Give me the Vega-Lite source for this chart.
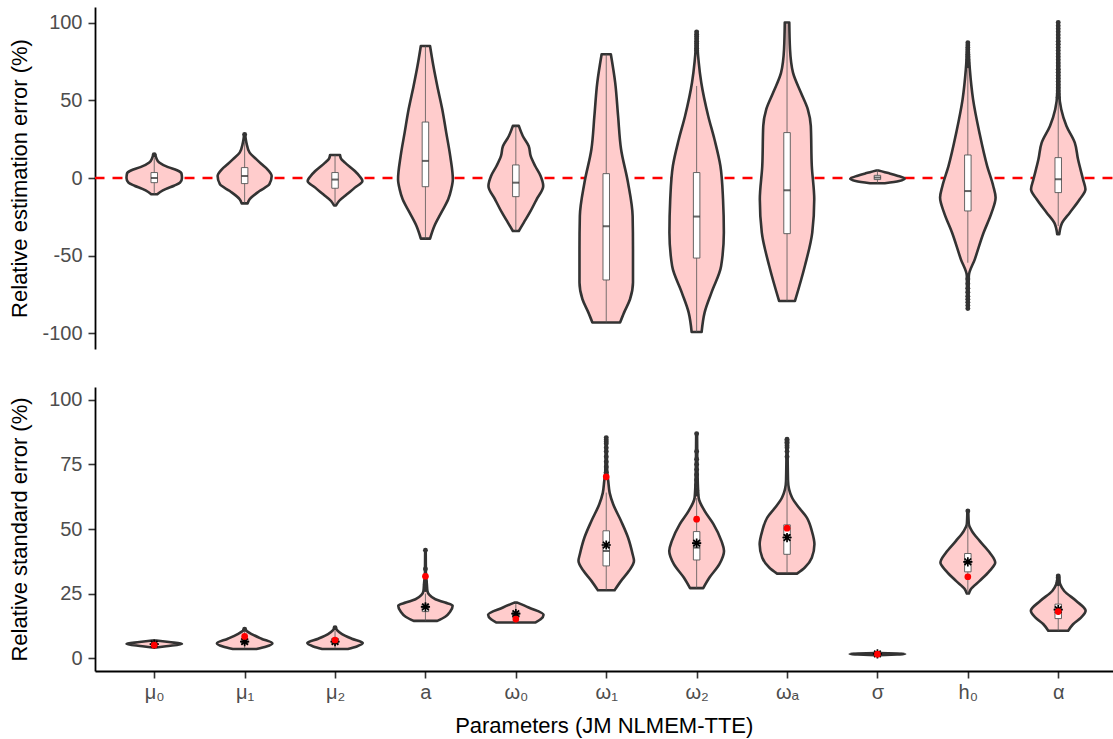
{
  "$schema": "https://vega.github.io/schema/vega-lite/v6.json",
  "padding": {"left": 7, "top": 7, "right": 0, "bottom": 2},
  "spacing": 38,
  "config": {
    "font": "Liberation Sans",
    "view": {"stroke": null},
    "axis": {
      "grid": false,
      "domainColor": "#000000",
      "domainWidth": 1.8,
      "tickColor": "#333333",
      "tickWidth": 1.6,
      "tickSize": 7,
      "labelColor": "#4d4d4d",
      "labelFont": "Liberation Sans",
      "labelFontSize": 20,
      "labelPadding": 6,
      "titleFont": "Liberation Sans",
      "titleFontSize": 22,
      "titleFontWeight": "normal",
      "titleColor": "#000000"
    }
  },
  "resolve": {"scale": {"x": "independent", "y": "independent"}},
  "datasets": {
    "violin": [
      {"p":"top","param":"μ₀","v":-10.5,"w":0.033},{"p":"top","param":"μ₀","v":-9,"w":0.066},{"p":"top","param":"μ₀","v":-7,"w":0.131},{"p":"top","param":"μ₀","v":-5,"w":0.219},{"p":"top","param":"μ₀","v":-3,"w":0.285},{"p":"top","param":"μ₀","v":0,"w":0.307},{"p":"top","param":"μ₀","v":3,"w":0.301},{"p":"top","param":"μ₀","v":5,"w":0.252},{"p":"top","param":"μ₀","v":7,"w":0.153},{"p":"top","param":"μ₀","v":10,"w":0.055},{"p":"top","param":"μ₀","v":13,"w":0.022},{"p":"top","param":"μ₀","v":15,"w":0.011},
      {"p":"top","param":"μ₁","v":-16.3,"w":0.033},{"p":"top","param":"μ₁","v":-13.7,"w":0.055},{"p":"top","param":"μ₁","v":-8.4,"w":0.164},{"p":"top","param":"μ₁","v":-4,"w":0.274},{"p":"top","param":"μ₁","v":1.3,"w":0.299},{"p":"top","param":"μ₁","v":5.6,"w":0.252},{"p":"top","param":"μ₁","v":9,"w":0.186},{"p":"top","param":"μ₁","v":12,"w":0.131},{"p":"top","param":"μ₁","v":16.3,"w":0.055},{"p":"top","param":"μ₁","v":22.8,"w":0.019},{"p":"top","param":"μ₁","v":28,"w":0.005},
      {"p":"top","param":"μ₂","v":-17.6,"w":0.011},{"p":"top","param":"μ₂","v":-14.8,"w":0.044},{"p":"top","param":"μ₂","v":-10.5,"w":0.131},{"p":"top","param":"μ₂","v":-6.2,"w":0.219},{"p":"top","param":"μ₂","v":-1.9,"w":0.303},{"p":"top","param":"μ₂","v":1,"w":0.274},{"p":"top","param":"μ₂","v":4.5,"w":0.219},{"p":"top","param":"μ₂","v":9.9,"w":0.11},{"p":"top","param":"μ₂","v":12.5,"w":0.066},{"p":"top","param":"μ₂","v":14.8,"w":0.055},
      {"p":"top","param":"a","v":-39,"w":0.051},{"p":"top","param":"a","v":-30.9,"w":0.099},{"p":"top","param":"a","v":-22.3,"w":0.175},{"p":"top","param":"a","v":-13.7,"w":0.252},{"p":"top","param":"a","v":-7.3,"w":0.285},{"p":"top","param":"a","v":-0.8,"w":0.303},{"p":"top","param":"a","v":14.2,"w":0.274},{"p":"top","param":"a","v":29.2,"w":0.23},{"p":"top","param":"a","v":44.2,"w":0.186},{"p":"top","param":"a","v":59.2,"w":0.131},{"p":"top","param":"a","v":72,"w":0.088},{"p":"top","param":"a","v":84.9,"w":0.051},
      {"p":"top","param":"ω₀","v":-34.1,"w":0.033},{"p":"top","param":"ω₀","v":-28.7,"w":0.088},{"p":"top","param":"ω₀","v":-22.3,"w":0.153},{"p":"top","param":"ω₀","v":-13.7,"w":0.23},{"p":"top","param":"ω₀","v":-5.1,"w":0.303},{"p":"top","param":"ω₀","v":1.3,"w":0.274},{"p":"top","param":"ω₀","v":7.7,"w":0.214},{"p":"top","param":"ω₀","v":14.2,"w":0.164},{"p":"top","param":"ω₀","v":20.6,"w":0.142},{"p":"top","param":"ω₀","v":27,"w":0.077},{"p":"top","param":"ω₀","v":33.5,"w":0.033},
      {"p":"top","param":"ω₁","v":-93,"w":0.153},{"p":"top","param":"ω₁","v":-86.6,"w":0.197},{"p":"top","param":"ω₁","v":-78,"w":0.263},{"p":"top","param":"ω₁","v":-67.3,"w":0.296},{"p":"top","param":"ω₁","v":-45.9,"w":0.296},{"p":"top","param":"ω₁","v":-24.5,"w":0.292},{"p":"top","param":"ω₁","v":-3,"w":0.241},{"p":"top","param":"ω₁","v":18.5,"w":0.164},{"p":"top","param":"ω₁","v":39.9,"w":0.131},{"p":"top","param":"ω₁","v":61.4,"w":0.099},{"p":"top","param":"ω₁","v":79.6,"w":0.051},
      {"p":"top","param":"ω₂","v":-99.1,"w":0.055},{"p":"top","param":"ω₂","v":-86.6,"w":0.088},{"p":"top","param":"ω₂","v":-73.7,"w":0.164},{"p":"top","param":"ω₂","v":-56.6,"w":0.271},{"p":"top","param":"ω₂","v":-35.1,"w":0.301},{"p":"top","param":"ω₂","v":-13.7,"w":0.292},{"p":"top","param":"ω₂","v":7.7,"w":0.263},{"p":"top","param":"ω₂","v":24.9,"w":0.197},{"p":"top","param":"ω₂","v":39.9,"w":0.128},{"p":"top","param":"ω₂","v":61.4,"w":0.051},{"p":"top","param":"ω₂","v":75,"w":0.022},{"p":"top","param":"ω₂","v":82.8,"w":0.011},{"p":"top","param":"ω₂","v":94,"w":0.005},
      {"p":"top","param":"ωₐ","v":-79.1,"w":0.088},{"p":"top","param":"ωₐ","v":-56.6,"w":0.197},{"p":"top","param":"ωₐ","v":-35.1,"w":0.279},{"p":"top","param":"ωₐ","v":-13.7,"w":0.301},{"p":"top","param":"ωₐ","v":7.7,"w":0.274},{"p":"top","param":"ωₐ","v":33.5,"w":0.263},{"p":"top","param":"ωₐ","v":44.2,"w":0.23},{"p":"top","param":"ωₐ","v":55,"w":0.153},{"p":"top","param":"ωₐ","v":67.8,"w":0.066},{"p":"top","param":"ωₐ","v":82.8,"w":0.033},{"p":"top","param":"ωₐ","v":100,"w":0.025},
      {"p":"top","param":"σ","v":-3.4,"w":0.082},{"p":"top","param":"σ","v":-1.9,"w":0.241},{"p":"top","param":"σ","v":-0.5,"w":0.301},{"p":"top","param":"σ","v":1.5,"w":0.219},{"p":"top","param":"σ","v":3,"w":0.131},{"p":"top","param":"σ","v":4.8,"w":0.011},
      {"p":"top","param":"h₀","v":-84,"w":0.005},{"p":"top","param":"h₀","v":-75,"w":0.008},{"p":"top","param":"h₀","v":-63,"w":0.011},{"p":"top","param":"h₀","v":-52.3,"w":0.077},{"p":"top","param":"h₀","v":-35.1,"w":0.175},{"p":"top","param":"h₀","v":-22.3,"w":0.263},{"p":"top","param":"h₀","v":-12.6,"w":0.307},{"p":"top","param":"h₀","v":-5.1,"w":0.281},{"p":"top","param":"h₀","v":7.7,"w":0.214},{"p":"top","param":"h₀","v":29.2,"w":0.128},{"p":"top","param":"h₀","v":50.6,"w":0.058},{"p":"top","param":"h₀","v":70,"w":0.022},{"p":"top","param":"h₀","v":87,"w":0.005},
      {"p":"top","param":"α","v":-36.2,"w":0.011},{"p":"top","param":"α","v":-28.7,"w":0.044},{"p":"top","param":"α","v":-22.3,"w":0.128},{"p":"top","param":"α","v":-13.7,"w":0.238},{"p":"top","param":"α","v":-7.3,"w":0.301},{"p":"top","param":"α","v":-0.8,"w":0.274},{"p":"top","param":"α","v":12,"w":0.219},{"p":"top","param":"α","v":22.8,"w":0.183},{"p":"top","param":"α","v":33.5,"w":0.091},{"p":"top","param":"α","v":44.2,"w":0.033},{"p":"top","param":"α","v":55,"w":0.011},{"p":"top","param":"α","v":100,"w":0.005},

      {"p":"bottom","param":"μ₀","v":4.1,"w":0.022},{"p":"bottom","param":"μ₀","v":4.6,"w":0.131},{"p":"bottom","param":"μ₀","v":5.5,"w":0.307},{"p":"bottom","param":"μ₀","v":6.2,"w":0.164},{"p":"bottom","param":"μ₀","v":6.8,"w":0.022},
      {"p":"bottom","param":"μ₁","v":3.5,"w":0.131},{"p":"bottom","param":"μ₁","v":4.5,"w":0.241},{"p":"bottom","param":"μ₁","v":5.7,"w":0.307},{"p":"bottom","param":"μ₁","v":7.5,"w":0.186},{"p":"bottom","param":"μ₁","v":9.3,"w":0.077},{"p":"bottom","param":"μ₁","v":10.5,"w":0.022},{"p":"bottom","param":"μ₁","v":11.2,"w":0.005},
      {"p":"bottom","param":"μ₂","v":3.5,"w":0.142},{"p":"bottom","param":"μ₂","v":4.5,"w":0.241},{"p":"bottom","param":"μ₂","v":5.8,"w":0.307},{"p":"bottom","param":"μ₂","v":7.5,"w":0.186},{"p":"bottom","param":"μ₂","v":9.3,"w":0.077},{"p":"bottom","param":"μ₂","v":10.8,"w":0.022},{"p":"bottom","param":"μ₂","v":11.8,"w":0.005},
      {"p":"bottom","param":"a","v":14.4,"w":0.131},{"p":"bottom","param":"a","v":16,"w":0.219},{"p":"bottom","param":"a","v":18,"w":0.274},{"p":"bottom","param":"a","v":20.3,"w":0.301},{"p":"bottom","param":"a","v":21.5,"w":0.219},{"p":"bottom","param":"a","v":22.8,"w":0.11},{"p":"bottom","param":"a","v":24.5,"w":0.044},{"p":"bottom","param":"a","v":26,"w":0.022},{"p":"bottom","param":"a","v":28.6,"w":0.016},{"p":"bottom","param":"a","v":33,"w":0.005},{"p":"bottom","param":"a","v":41.8,"w":0.003},
      {"p":"bottom","param":"ω₀","v":13.8,"w":0.219},{"p":"bottom","param":"ω₀","v":15,"w":0.274},{"p":"bottom","param":"ω₀","v":16.8,"w":0.307},{"p":"bottom","param":"ω₀","v":19.6,"w":0.142},{"p":"bottom","param":"ω₀","v":21.5,"w":0.016},
      {"p":"bottom","param":"ω₁","v":26.3,"w":0.093},{"p":"bottom","param":"ω₁","v":29.9,"w":0.164},{"p":"bottom","param":"ω₁","v":33.8,"w":0.252},{"p":"bottom","param":"ω₁","v":37.7,"w":0.307},{"p":"bottom","param":"ω₁","v":40.2,"w":0.292},{"p":"bottom","param":"ω₁","v":46.7,"w":0.241},{"p":"bottom","param":"ω₁","v":53.1,"w":0.164},{"p":"bottom","param":"ω₁","v":59.6,"w":0.077},{"p":"bottom","param":"ω₁","v":64,"w":0.038},{"p":"bottom","param":"ω₁","v":68.6,"w":0.022},{"p":"bottom","param":"ω₁","v":72,"w":0.011},{"p":"bottom","param":"ω₁","v":85.4,"w":0.005},
      {"p":"bottom","param":"ω₂","v":27.1,"w":0.073},{"p":"bottom","param":"ω₂","v":31.2,"w":0.142},{"p":"bottom","param":"ω₂","v":36.4,"w":0.252},{"p":"bottom","param":"ω₂","v":41.5,"w":0.303},{"p":"bottom","param":"ω₂","v":45.4,"w":0.274},{"p":"bottom","param":"ω₂","v":51.9,"w":0.186},{"p":"bottom","param":"ω₂","v":57,"w":0.088},{"p":"bottom","param":"ω₂","v":62.2,"w":0.022},{"p":"bottom","param":"ω₂","v":70,"w":0.011},{"p":"bottom","param":"ω₂","v":86.9,"w":0.005},
      {"p":"bottom","param":"ωₐ","v":32.7,"w":0.11},{"p":"bottom","param":"ωₐ","v":35.1,"w":0.197},{"p":"bottom","param":"ωₐ","v":38.9,"w":0.274},{"p":"bottom","param":"ωₐ","v":44.1,"w":0.303},{"p":"bottom","param":"ωₐ","v":49.3,"w":0.274},{"p":"bottom","param":"ωₐ","v":54.4,"w":0.219},{"p":"bottom","param":"ωₐ","v":58.3,"w":0.131},{"p":"bottom","param":"ωₐ","v":62.2,"w":0.055},{"p":"bottom","param":"ωₐ","v":68.6,"w":0.011},{"p":"bottom","param":"ωₐ","v":84.8,"w":0.005},
      {"p":"bottom","param":"σ","v":1.1,"w":0.022},{"p":"bottom","param":"σ","v":1.4,"w":0.219},{"p":"bottom","param":"σ","v":1.6,"w":0.307},{"p":"bottom","param":"σ","v":1.8,"w":0.219},{"p":"bottom","param":"σ","v":2.0,"w":0.022},
      {"p":"bottom","param":"h₀","v":25,"w":0.011},{"p":"bottom","param":"h₀","v":26.7,"w":0.033},{"p":"bottom","param":"h₀","v":29.9,"w":0.131},{"p":"bottom","param":"h₀","v":33.8,"w":0.241},{"p":"bottom","param":"h₀","v":37,"w":0.303},{"p":"bottom","param":"h₀","v":40.9,"w":0.241},{"p":"bottom","param":"h₀","v":45.4,"w":0.131},{"p":"bottom","param":"h₀","v":49.3,"w":0.044},{"p":"bottom","param":"h₀","v":51.9,"w":0.011},{"p":"bottom","param":"h₀","v":57,"w":0.005},
      {"p":"bottom","param":"α","v":10.6,"w":0.11},{"p":"bottom","param":"α","v":13.1,"w":0.164},{"p":"bottom","param":"α","v":15.7,"w":0.252},{"p":"bottom","param":"α","v":18.3,"w":0.303},{"p":"bottom","param":"α","v":22.2,"w":0.197},{"p":"bottom","param":"α","v":26,"w":0.066},{"p":"bottom","param":"α","v":28.6,"w":0.022},{"p":"bottom","param":"α","v":31.8,"w":0.005}
    ],
    "box": [
      {"p":"top","param":"μ₀","lo":-10.5,"q1":-3.0,"med":0,"q3":3.5,"hi":13},
      {"p":"top","param":"μ₁","lo":-16,"q1":-3.6,"med":1.3,"q3":6.7,"hi":24},
      {"p":"top","param":"μ₂","lo":-17.6,"q1":-6.6,"med":-1.0,"q3":3.5,"hi":14.8},
      {"p":"top","param":"a","lo":-39,"q1":-5.6,"med":11.0,"q3":36.0,"hi":84.9},
      {"p":"top","param":"ω₀","lo":-34.1,"q1":-12.0,"med":-3.0,"q3":8.4,"hi":33.5},
      {"p":"top","param":"ω₁","lo":-93,"q1":-65.6,"med":-31.1,"q3":2.8,"hi":79.6},
      {"p":"top","param":"ω₂","lo":-99.1,"q1":-51.5,"med":-24.8,"q3":3.5,"hi":59.2},
      {"p":"top","param":"ωₐ","lo":-79.1,"q1":-35.8,"med":-7.9,"q3":29.2,"hi":100},
      {"p":"top","param":"σ","lo":-3.4,"q1":-1.0,"med":0.3,"q3":1.7,"hi":5},
      {"p":"top","param":"h₀","lo":-54.5,"q1":-21.2,"med":-8.4,"q3":14.8,"hi":70},
      {"p":"top","param":"α","lo":-30.9,"q1":-9.4,"med":-0.8,"q3":13.1,"hi":50.6},
      {"p":"bottom","param":"μ₀","lo":4.3,"q1":5.0,"med":5.5,"q3":5.9,"hi":6.6},
      {"p":"bottom","param":"μ₁","lo":3.8,"q1":5.5,"med":6.2,"q3":7.5,"hi":10.5},
      {"p":"bottom","param":"μ₂","lo":3.8,"q1":5.5,"med":6.3,"q3":7.3,"hi":10.5},
      {"p":"bottom","param":"a","lo":14.5,"q1":18.0,"med":19.6,"q3":20.9,"hi":25},
      {"p":"bottom","param":"ω₀","lo":13.8,"q1":15.7,"med":16.8,"q3":17.9,"hi":21.5},
      {"p":"bottom","param":"ω₁","lo":26.3,"q1":35.7,"med":41.5,"q3":49.3,"hi":64.1},
      {"p":"bottom","param":"ω₂","lo":27.1,"q1":38.0,"med":42.8,"q3":49.0,"hi":62},
      {"p":"bottom","param":"ωₐ","lo":32.7,"q1":40.2,"med":47.6,"q3":51.6,"hi":69},
      {"p":"bottom","param":"σ","lo":1.2,"q1":1.4,"med":1.5,"q3":1.7,"hi":1.9},
      {"p":"bottom","param":"h₀","lo":25,"q1":33.4,"med":37.0,"q3":40.5,"hi":52},
      {"p":"bottom","param":"α","lo":10.6,"q1":15.3,"med":18.0,"q3":20.9,"hi":28}
    ],
    "outlier": [
      {"p":"top","param":"μ₀","v":15},
      {"p":"top","param":"μ₁","v":28},
      {"p":"top","param":"ω₂","v":94},{"p":"top","param":"ω₂","v":92.5},{"p":"top","param":"ω₂","v":91},{"p":"top","param":"ω₂","v":89.5},{"p":"top","param":"ω₂","v":88},{"p":"top","param":"ω₂","v":86.5},{"p":"top","param":"ω₂","v":85},{"p":"top","param":"ω₂","v":83.5},{"p":"top","param":"ω₂","v":82},
      {"p":"top","param":"h₀","v":87},{"p":"top","param":"h₀","v":85.5},{"p":"top","param":"h₀","v":84},{"p":"top","param":"h₀","v":82.5},{"p":"top","param":"h₀","v":81},{"p":"top","param":"h₀","v":79.5},{"p":"top","param":"h₀","v":78},{"p":"top","param":"h₀","v":76},{"p":"top","param":"h₀","v":74},{"p":"top","param":"h₀","v":72},
      {"p":"top","param":"h₀","v":-84},{"p":"top","param":"h₀","v":-82},{"p":"top","param":"h₀","v":-80},{"p":"top","param":"h₀","v":-78},{"p":"top","param":"h₀","v":-76},{"p":"top","param":"h₀","v":-73.5},{"p":"top","param":"h₀","v":-71},{"p":"top","param":"h₀","v":-68},{"p":"top","param":"h₀","v":-65},
      {"p":"top","param":"α","v":100},{"p":"top","param":"α","v":98},{"p":"top","param":"α","v":96},{"p":"top","param":"α","v":94},{"p":"top","param":"α","v":92},{"p":"top","param":"α","v":90},{"p":"top","param":"α","v":88},{"p":"top","param":"α","v":86},{"p":"top","param":"α","v":84},{"p":"top","param":"α","v":82},{"p":"top","param":"α","v":80},{"p":"top","param":"α","v":78},{"p":"top","param":"α","v":76},{"p":"top","param":"α","v":74},{"p":"top","param":"α","v":72},{"p":"top","param":"α","v":70},{"p":"top","param":"α","v":68},{"p":"top","param":"α","v":66},{"p":"top","param":"α","v":64},{"p":"top","param":"α","v":62},{"p":"top","param":"α","v":60},{"p":"top","param":"α","v":58},{"p":"top","param":"α","v":56},{"p":"top","param":"α","v":54},{"p":"top","param":"α","v":52},
      {"p":"bottom","param":"μ₁","v":11.2},
      {"p":"bottom","param":"μ₂","v":11.8},
      {"p":"bottom","param":"a","v":41.8},{"p":"bottom","param":"a","v":34.5},{"p":"bottom","param":"a","v":29.5},{"p":"bottom","param":"a","v":28.5},{"p":"bottom","param":"a","v":27.5},{"p":"bottom","param":"a","v":26.5},
      {"p":"bottom","param":"ω₁","v":85.4},{"p":"bottom","param":"ω₁","v":84.6},{"p":"bottom","param":"ω₁","v":83.8},{"p":"bottom","param":"ω₁","v":83},{"p":"bottom","param":"ω₁","v":81.5},{"p":"bottom","param":"ω₁","v":80},{"p":"bottom","param":"ω₁","v":78},{"p":"bottom","param":"ω₁","v":76},{"p":"bottom","param":"ω₁","v":74},{"p":"bottom","param":"ω₁","v":72},
      {"p":"bottom","param":"ω₂","v":86.9},{"p":"bottom","param":"ω₂","v":80},{"p":"bottom","param":"ω₂","v":77},{"p":"bottom","param":"ω₂","v":75},{"p":"bottom","param":"ω₂","v":73},{"p":"bottom","param":"ω₂","v":71},{"p":"bottom","param":"ω₂","v":69},{"p":"bottom","param":"ω₂","v":67},{"p":"bottom","param":"ω₂","v":65},{"p":"bottom","param":"ω₂","v":63.5},
      {"p":"bottom","param":"ωₐ","v":84.8},{"p":"bottom","param":"ωₐ","v":84.2},{"p":"bottom","param":"ωₐ","v":83.6},{"p":"bottom","param":"ωₐ","v":83},{"p":"bottom","param":"ωₐ","v":82.2},{"p":"bottom","param":"ωₐ","v":81.5},{"p":"bottom","param":"ωₐ","v":80},{"p":"bottom","param":"ωₐ","v":78},
      {"p":"bottom","param":"h₀","v":57},
      {"p":"bottom","param":"α","v":31.8},{"p":"bottom","param":"α","v":31.2},{"p":"bottom","param":"α","v":30.6},{"p":"bottom","param":"α","v":30},{"p":"bottom","param":"α","v":29.4},{"p":"bottom","param":"α","v":28.8}
    ],
    "summary": [
      {"param":"μ₀","mean":5.4,"ref":5.0},
      {"param":"μ₁","mean":6.4,"ref":8.4},
      {"param":"μ₂","mean":6.4,"ref":7.0},
      {"param":"a","mean":19.8,"ref":31.7},
      {"param":"ω₀","mean":17.2,"ref":15.1},
      {"param":"ω₁","mean":43.8,"ref":70.2},
      {"param":"ω₂","mean":44.5,"ref":53.8},
      {"param":"ωₐ","mean":46.7,"ref":50.3},
      {"param":"σ","mean":1.6,"ref":1.5},
      {"param":"h₀","mean":37.3,"ref":31.5},
      {"param":"α","mean":18.8,"ref":18.0}
    ]
  },
  "vconcat": [
    {
      "width": 1017.5,
      "height": 342,
      "layer": [
        {
          "data": {"values": [{"ref": 0}]},
          "mark": {"type": "rule", "color": "#FF0000", "strokeDash": [10, 8], "strokeWidth": 2.4},
          "encoding": {
            "y": {"field": "ref", "type": "quantitative", "scale": {"domain": [-110, 110]}, "title": "Relative estimation error (%)",
                  "axis": {"values": [-100, -50, 0, 50, 100], "labelExpr": "'' + datum.value", "minExtent": 54, "maxExtent": 54, "titlePadding": 10}}
          }
        },
        {
          "data": {"name": "violin"},
          "transform": [
            {"filter": "datum.p == 'top'"},
            {"calculate": "indexof(['μ₀','μ₁','μ₂','a','ω₀','ω₁','ω₂','ωₐ','σ','h₀','α'], datum.param) + 1", "as": "idx"},
            {"calculate": "datum.idx - datum.w", "as": "xl"},
            {"calculate": "datum.idx + datum.w", "as": "xr"}
          ],
          "mark": {"type": "area", "orient": "horizontal", "interpolate": "monotone", "fill": "#FFCCCC", "stroke": "#333333", "strokeWidth": 2.6, "strokeJoin": "round"},
          "encoding": {
            "y": {"field": "v", "type": "quantitative", "scale": {"domain": [-110, 110]}, "title": "Relative estimation error (%)"},
            "x": {"field": "xl", "type": "quantitative", "scale": {"domain": [0.4, 11.545]}, "axis": null},
            "x2": {"field": "xr"},
            "detail": {"field": "param", "type": "nominal"}
          }
        },
        {
          "data": {"name": "box"},
          "transform": [
            {"filter": "datum.p == 'top'"},
            {"calculate": "indexof(['μ₀','μ₁','μ₂','a','ω₀','ω₁','ω₂','ωₐ','σ','h₀','α'], datum.param) + 1", "as": "idx"}
          ],
          "layer": [
            {
              "mark": {"type": "rule", "color": "#555555", "strokeWidth": 0.8},
              "encoding": {
                "x": {"field": "idx", "type": "quantitative", "scale": {"domain": [0.4, 11.545]}, "axis": null},
                "y": {"field": "lo", "type": "quantitative", "scale": {"domain": [-110, 110]}, "title": "Relative estimation error (%)"},
                "y2": {"field": "hi"}
              }
            },
            {
              "mark": {"type": "bar", "width": 6.5, "fill": "#FFFFFF", "stroke": "#555555", "strokeWidth": 0.9},
              "encoding": {
                "x": {"field": "idx", "type": "quantitative", "scale": {"domain": [0.4, 11.545]}, "axis": null},
                "y": {"field": "q1", "type": "quantitative", "scale": {"domain": [-110, 110]}, "title": "Relative estimation error (%)"},
                "y2": {"field": "q3"}
              }
            },
            {
              "mark": {"type": "tick", "orient": "horizontal", "size": 6.5, "thickness": 2, "color": "#222222"},
              "encoding": {
                "x": {"field": "idx", "type": "quantitative", "scale": {"domain": [0.4, 11.545]}, "axis": null},
                "y": {"field": "med", "type": "quantitative", "scale": {"domain": [-110, 110]}, "title": "Relative estimation error (%)"}
              }
            }
          ]
        },
        {
          "data": {"name": "outlier"},
          "transform": [
            {"filter": "datum.p == 'top'"},
            {"calculate": "indexof(['μ₀','μ₁','μ₂','a','ω₀','ω₁','ω₂','ωₐ','σ','h₀','α'], datum.param) + 1", "as": "idx"}
          ],
          "mark": {"type": "point", "filled": true, "color": "#333333", "size": 24, "opacity": 1},
          "encoding": {
            "x": {"field": "idx", "type": "quantitative", "scale": {"domain": [0.4, 11.545]}, "axis": null},
            "y": {"field": "v", "type": "quantitative", "scale": {"domain": [-110, 110]}, "title": "Relative estimation error (%)"}
          }
        }
      ]
    },
    {
      "width": 1017.5,
      "height": 284,
      "layer": [
        {
          "data": {"name": "violin"},
          "transform": [
            {"filter": "datum.p == 'bottom'"},
            {"calculate": "indexof(['μ₀','μ₁','μ₂','a','ω₀','ω₁','ω₂','ωₐ','σ','h₀','α'], datum.param) + 1", "as": "idx"},
            {"calculate": "datum.idx - datum.w", "as": "xl"},
            {"calculate": "datum.idx + datum.w", "as": "xr"}
          ],
          "mark": {"type": "area", "orient": "horizontal", "interpolate": "monotone", "fill": "#FFCCCC", "stroke": "#333333", "strokeWidth": 2.6, "strokeJoin": "round"},
          "encoding": {
            "y": {"field": "v", "type": "quantitative", "scale": {"domain": [-5, 105]}, "title": "Relative standard error (%)",
                  "axis": {"values": [0, 25, 50, 75, 100], "minExtent": 54, "maxExtent": 54, "titlePadding": 10}},
            "x": {"field": "xl", "type": "quantitative", "scale": {"domain": [0.4, 11.545]}, "title": "Parameters (JM NLMEM-TTE)",
                  "axis": {"values": [1, 2, 3, 4, 5, 6, 7, 8, 9, 10, 11], "labelExpr": "['', 'μ₀','μ₁','μ₂','a','ω₀','ω₁','ω₂','ωₐ','σ','h₀','α'][datum.value]", "labelFlush": false, "labelPadding": 4, "titlePadding": 13, "titleColor": "#000000"}},
            "x2": {"field": "xr"},
            "detail": {"field": "param", "type": "nominal"}
          }
        },
        {
          "data": {"name": "box"},
          "transform": [
            {"filter": "datum.p == 'bottom'"},
            {"calculate": "indexof(['μ₀','μ₁','μ₂','a','ω₀','ω₁','ω₂','ωₐ','σ','h₀','α'], datum.param) + 1", "as": "idx"}
          ],
          "layer": [
            {
              "mark": {"type": "rule", "color": "#555555", "strokeWidth": 0.8},
              "encoding": {
                "x": {"field": "idx", "type": "quantitative", "scale": {"domain": [0.4, 11.545]}, "title": "Parameters (JM NLMEM-TTE)"},
                "y": {"field": "lo", "type": "quantitative", "scale": {"domain": [-5, 105]}, "title": "Relative standard error (%)"},
                "y2": {"field": "hi"}
              }
            },
            {
              "mark": {"type": "bar", "width": 6.5, "fill": "#FFFFFF", "stroke": "#555555", "strokeWidth": 0.9},
              "encoding": {
                "x": {"field": "idx", "type": "quantitative", "scale": {"domain": [0.4, 11.545]}, "title": "Parameters (JM NLMEM-TTE)"},
                "y": {"field": "q1", "type": "quantitative", "scale": {"domain": [-5, 105]}, "title": "Relative standard error (%)"},
                "y2": {"field": "q3"}
              }
            },
            {
              "mark": {"type": "tick", "orient": "horizontal", "size": 6.5, "thickness": 2, "color": "#222222"},
              "encoding": {
                "x": {"field": "idx", "type": "quantitative", "scale": {"domain": [0.4, 11.545]}, "title": "Parameters (JM NLMEM-TTE)"},
                "y": {"field": "med", "type": "quantitative", "scale": {"domain": [-5, 105]}, "title": "Relative standard error (%)"}
              }
            }
          ]
        },
        {
          "data": {"name": "outlier"},
          "transform": [
            {"filter": "datum.p == 'bottom'"},
            {"calculate": "indexof(['μ₀','μ₁','μ₂','a','ω₀','ω₁','ω₂','ωₐ','σ','h₀','α'], datum.param) + 1", "as": "idx"}
          ],
          "mark": {"type": "point", "filled": true, "color": "#333333", "size": 24, "opacity": 1},
          "encoding": {
            "x": {"field": "idx", "type": "quantitative", "scale": {"domain": [0.4, 11.545]}, "title": "Parameters (JM NLMEM-TTE)"},
            "y": {"field": "v", "type": "quantitative", "scale": {"domain": [-5, 105]}, "title": "Relative standard error (%)"}
          }
        },
        {
          "data": {"name": "summary"},
          "transform": [
            {"calculate": "indexof(['μ₀','μ₁','μ₂','a','ω₀','ω₁','ω₂','ωₐ','σ','h₀','α'], datum.param) + 1", "as": "idx"}
          ],
          "layer": [
            {
              "mark": {"type": "point", "shape": "M-1,0L1,0M0,-1L0,1M-0.71,-0.71L0.71,0.71M-0.71,0.71L0.71,-0.71", "filled": false, "stroke": "#000000", "strokeWidth": 1.7, "size": 85, "opacity": 1},
              "encoding": {
                "x": {"field": "idx", "type": "quantitative", "scale": {"domain": [0.4, 11.545]}, "title": "Parameters (JM NLMEM-TTE)"},
                "y": {"field": "mean", "type": "quantitative", "scale": {"domain": [-5, 105]}, "title": "Relative standard error (%)"}
              }
            },
            {
              "mark": {"type": "circle", "color": "#FF0000", "size": 45, "opacity": 1},
              "encoding": {
                "x": {"field": "idx", "type": "quantitative", "scale": {"domain": [0.4, 11.545]}, "title": "Parameters (JM NLMEM-TTE)"},
                "y": {"field": "ref", "type": "quantitative", "scale": {"domain": [-5, 105]}, "title": "Relative standard error (%)"}
              }
            }
          ]
        }
      ]
    }
  ]
}
